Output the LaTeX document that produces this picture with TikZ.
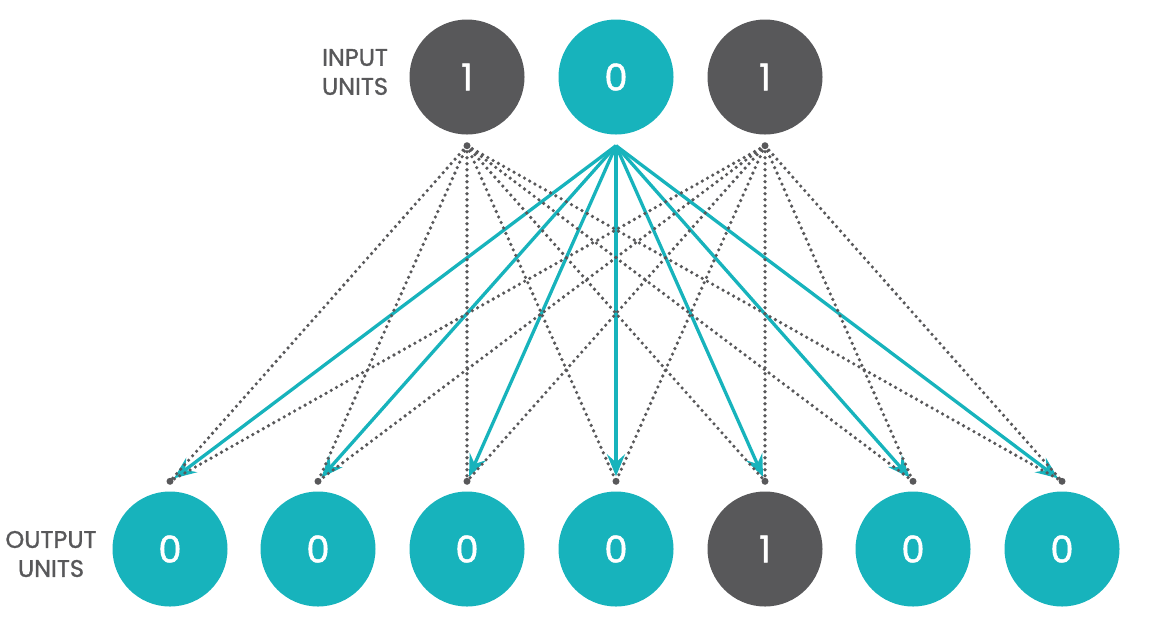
\documentclass[tikz,border=0pt]{standalone}
\usepackage{fontspec}
\setmainfont{Poppins}[FakeBold=1.2]
\usetikzlibrary{arrows.meta}
\definecolor{gris}{HTML}{58585A}
\definecolor{turquesa}{HTML}{17B3BC}

\begin{document}
\begin{tikzpicture}[x=1pt,y=-1pt,
    unidad/.style={circle, minimum size=115pt, inner sep=0pt, text=white,
      font=\fontsize{37}{37}\selectfont},
    etiqueta/.style={text=gris, align=center, font=\fontsize{24}{29}\selectfont},
    punteada/.style={gris, line width=3.6pt, dash pattern=on 0pt off 6pt, line cap=round},
    flecha/.style={turquesa, line width=3.3pt, shorten >=5pt,
      -{Stealth[length=22pt, width=18pt, inset=8pt]}}]
    \useasboundingbox (0,0) rectangle (1167,625);

    % Entradas
    \node[unidad, fill=gris] (e1) at (467,77) {1};
    \node[unidad, fill=turquesa] (e2) at (616,77) {0};
    \node[unidad, fill=gris] (e3) at (765,77) {1};
    \node[etiqueta] (te) at (355,72) {INPUT\\UNITS};

    % Salidas
    \foreach \n/\x/\v/\c in {1/170/0/turquesa, 2/318/0/turquesa, 3/467/0/turquesa,
        4/616/0/turquesa, 5/765/1/gris, 6/913/0/turquesa, 7/1062/0/turquesa}
      \node[unidad, fill=\c] (s\n) at (\x,549) {\v};
    \node[etiqueta] (ts) at (51,554) {OUTPUT\\UNITS};

    % Puntos de union
    \foreach \i in {1,2,3}
      \coordinate (a\i) at ([yshift=-11pt]e\i.south);
    \foreach \n in {1,...,7}
      \coordinate (b\n) at ([yshift=10pt]s\n.north);

    % Flechas
    \foreach \n in {1,...,7}
      \draw[flecha] (a2) -- (b\n);

    % Conexiones punteadas
    \foreach \n in {1,...,7} {
      \draw[punteada] (a1) -- (b\n);
      \draw[punteada] (a3) -- (b\n);
      \fill[gris] (b\n) circle (3.5pt);
    }
    \fill[gris] (a1) circle (3.5pt);
    \fill[gris] (a3) circle (3.5pt);
\end{tikzpicture}
\end{document}
